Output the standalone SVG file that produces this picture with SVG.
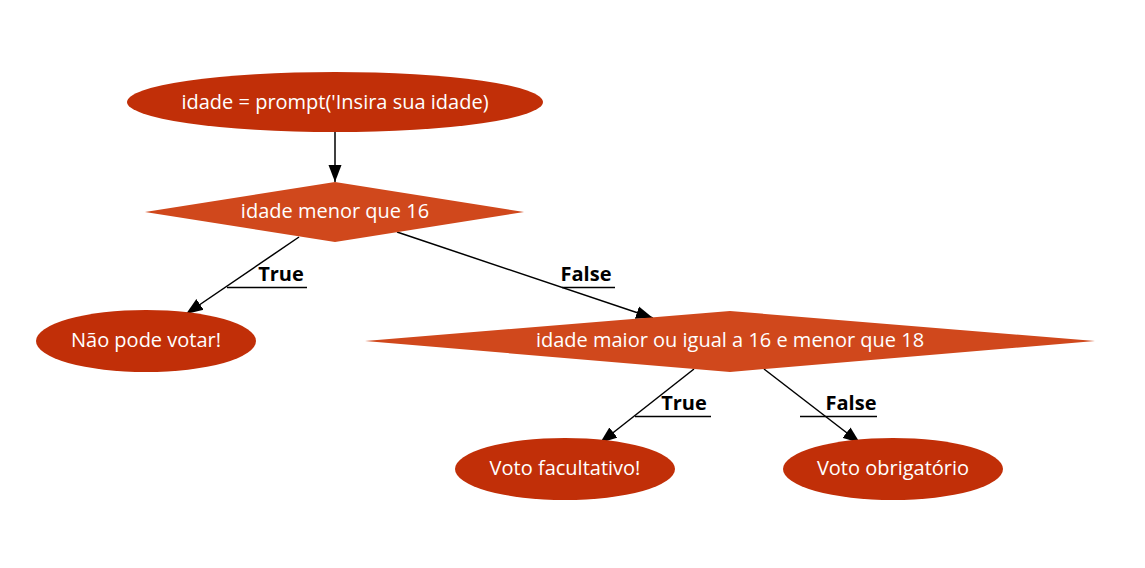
<svg xmlns="http://www.w3.org/2000/svg" width="1145" height="568" viewBox="0 0 1145 568">
<style>
.term{fill:#c12f08;}
.dec{fill:#d0481c;}
.nt{font-family:"Open Sans","Noto Sans",sans-serif;font-size:20px;fill:#ffffff;text-anchor:middle;dominant-baseline:central;}
.lbl{font-family:"Open Sans","Noto Sans",sans-serif;font-size:20px;font-weight:bold;fill:#000000;text-anchor:middle;}
.edge{stroke:#000;stroke-width:1.5;fill:none;}
.ul{stroke:#000;stroke-width:1.3;}
</style>
<defs>
<marker id="arr" markerUnits="userSpaceOnUse" markerWidth="18" markerHeight="14" refX="17" refY="7" orient="auto">
<path d="M0,0.5 L17,7 L0,13.5 Z" fill="#000"/>
</marker>
</defs>
<rect width="1145" height="568" fill="#ffffff"/>
<g id="connectors">
<line class="edge" x1="335" y1="132" x2="335" y2="182" marker-end="url(#arr)"/>
<line class="edge" x1="299" y1="237" x2="186" y2="314" marker-end="url(#arr)"/>
<line class="edge" x1="397" y1="232" x2="653" y2="318" marker-end="url(#arr)"/>
<line class="edge" x1="694" y1="369" x2="600" y2="443" marker-end="url(#arr)"/>
<line class="edge" x1="764" y1="369" x2="860" y2="443" marker-end="url(#arr)"/>
<text class="lbl" x="281" y="281">True</text>
<line class="ul" x1="227" y1="287.5" x2="307" y2="287.5"/>
<text class="lbl" x="586" y="281">False</text>
<line class="ul" x1="562" y1="287.5" x2="615" y2="287.5"/>
<text class="lbl" x="684" y="410">True</text>
<line class="ul" x1="635" y1="416.5" x2="711" y2="416.5"/>
<text class="lbl" x="851" y="410">False</text>
<line class="ul" x1="800" y1="416.5" x2="877" y2="416.5"/>
</g>
<g id="start">
<ellipse class="term" cx="335" cy="102" rx="208" ry="30"/>
<text class="nt" x="335" y="101">idade = prompt('Insira sua idade)</text>
</g>
<g id="dec1">
<polygon class="dec" points="335,182 524,212 335,242 145,212"/>
<text class="nt" x="335" y="210">idade menor que 16</text>
</g>
<g id="nao">
<ellipse class="term" cx="146" cy="341" rx="110" ry="31"/>
<text class="nt" x="146" y="339">Não pode votar!</text>
</g>
<g id="dec2">
<polygon class="dec" points="730,311 1095,341 730,372 365,341"/>
<text class="nt" x="730" y="339">idade maior ou igual a 16 e menor que 18</text>
</g>
<g id="facultativo">
<ellipse class="term" cx="565" cy="469" rx="110" ry="31"/>
<text class="nt" x="565" y="467">Voto facultativo!</text>
</g>
<g id="obrigatorio">
<ellipse class="term" cx="893" cy="469" rx="110" ry="31"/>
<text class="nt" x="893" y="467">Voto obrigatório</text>
</g>
</svg>
